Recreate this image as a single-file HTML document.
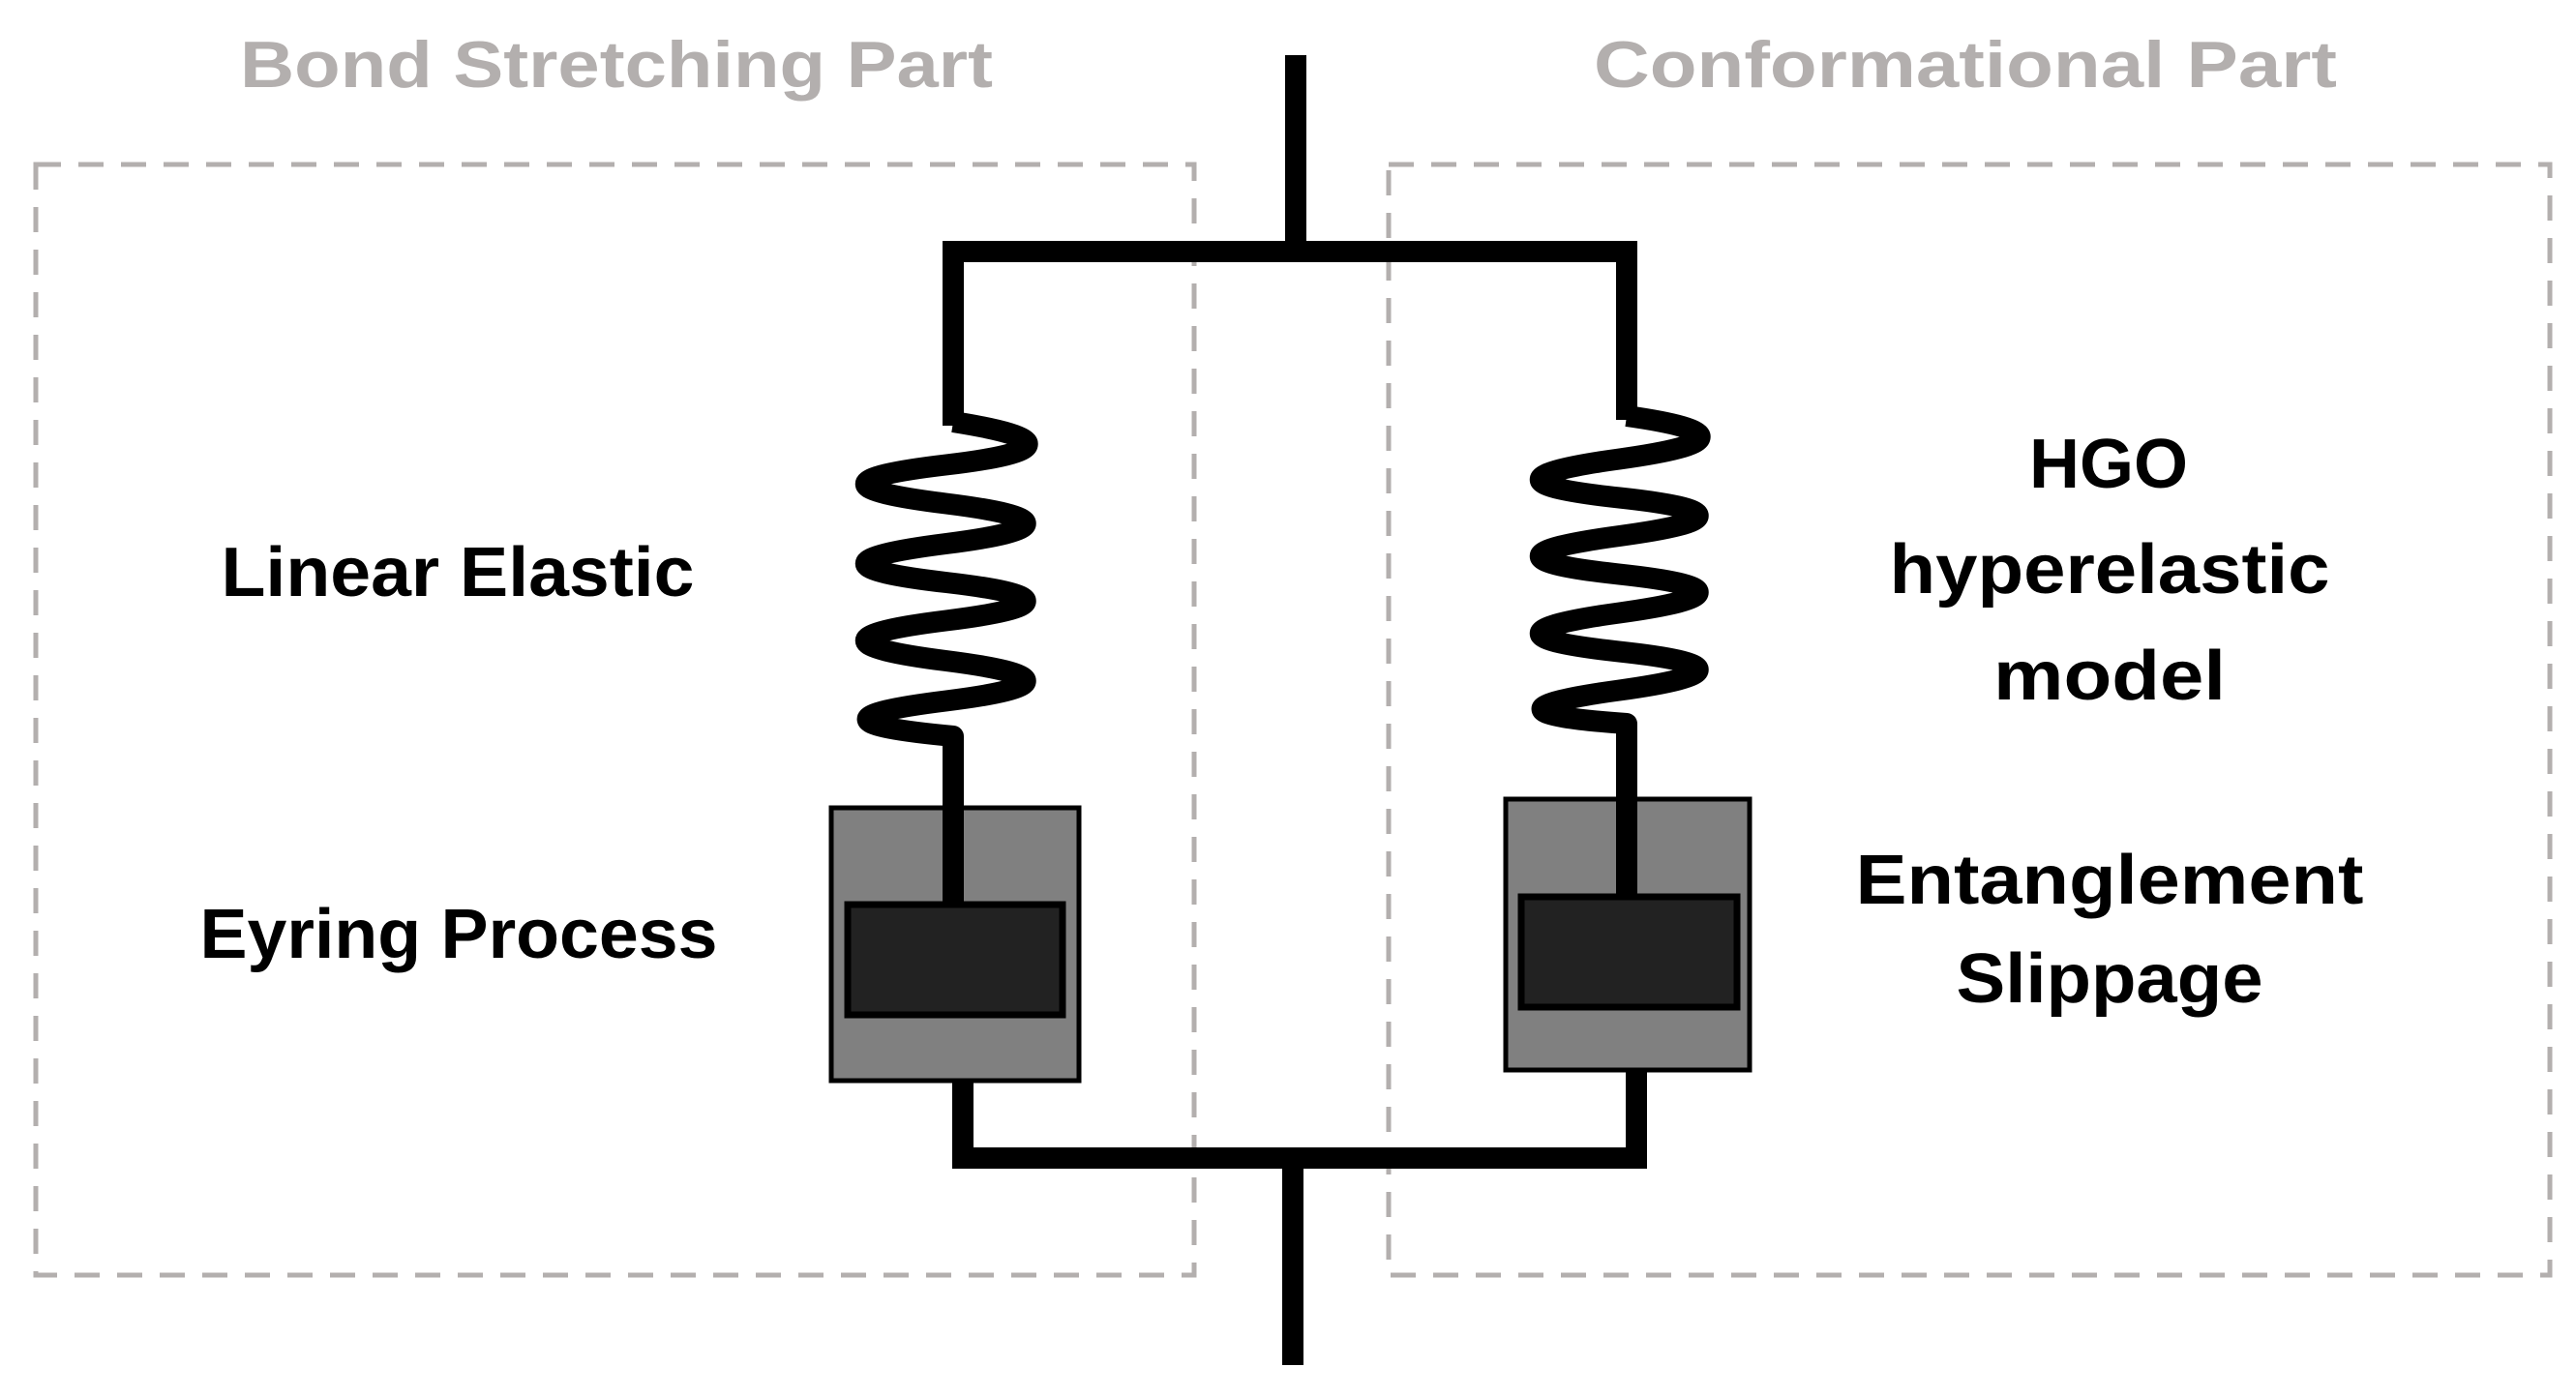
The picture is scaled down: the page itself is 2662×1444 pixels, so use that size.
<!DOCTYPE html>
<html><head><style>html,body{margin:0;padding:0;background:#fff}</style></head>
<body>
<svg width="2662" height="1439" viewBox="0 0 2662 1439" xmlns="http://www.w3.org/2000/svg">
<g fill="none" stroke="#b3afae" stroke-width="5" stroke-dasharray="26,18">
<rect x="37" y="170" width="1197" height="1148"/>
<rect x="1435" y="170" width="1200" height="1148"/>
</g>
<g font-family="'Liberation Sans', sans-serif" font-weight="bold">
<text x="637" y="90" font-size="68" fill="#b3afae" text-anchor="middle" textLength="778" lengthAdjust="spacingAndGlyphs">Bond Stretching Part</text>
<text x="2031" y="90" font-size="68" fill="#b3afae" text-anchor="middle" textLength="768" lengthAdjust="spacingAndGlyphs">Conformational Part</text>
<g fill="#000" font-size="72">
<text x="473" y="616" text-anchor="middle" textLength="489" lengthAdjust="spacingAndGlyphs">Linear Elastic</text>
<text x="474" y="990" text-anchor="middle" textLength="535" lengthAdjust="spacingAndGlyphs">Eyring Process</text>
<text x="2179" y="504" text-anchor="middle">HGO</text>
<text x="2180" y="613" text-anchor="middle" textLength="455" lengthAdjust="spacingAndGlyphs">hyperelastic</text>
<text x="2180" y="723" text-anchor="middle" textLength="240" lengthAdjust="spacingAndGlyphs">model</text>
<text x="2180" y="934" text-anchor="middle" textLength="525" lengthAdjust="spacingAndGlyphs">Entanglement</text>
<text x="2180" y="1036" text-anchor="middle" textLength="317" lengthAdjust="spacingAndGlyphs">Slippage</text>
</g></g>
<g fill="none" stroke="#000" stroke-width="22">
<path d="M1339 57 V260"/>
<path d="M985 440 V260 H1681 V434" stroke-linejoin="miter"/>
<path d="M1336 1197 V1411"/>
<path d="M995 1110 V1197 H1691 V1100"/>
<path d="M985 436 Q1142 461 977.5 480.5 Q812 500 977.5 520.5 Q1142 541 977.5 562 Q812 583 977.5 602 Q1142 621 977.5 641.5 Q812 662 977.5 683 Q1142 704 977.5 724.5 Q812 745 985 761 V935" stroke-linejoin="round"/>
<path d="M1681 430 Q1836 452 1673.5 474.5 Q1510 497 1673.5 514.5 Q1836 532 1673.5 554 Q1510 576 1673.5 593.5 Q1836 611 1673.5 633.5 Q1510 656 1673.5 673.5 Q1836 691 1673.5 713.5 Q1510 736 1681 748 V927" stroke-linejoin="round"/>
</g>
<rect x="859" y="835" width="256" height="282" fill="#808080" stroke="#000" stroke-width="5"/>
<rect x="1556" y="826" width="252" height="280" fill="#808080" stroke="#000" stroke-width="5"/>
<path d="M985 835 V935 M1681 826 V927" stroke="#000" stroke-width="22"/>
<rect x="876" y="935" width="222" height="114" fill="#222" stroke="#000" stroke-width="7"/>
<rect x="1572" y="927" width="223" height="114" fill="#222" stroke="#000" stroke-width="7"/>
</svg>
</body></html>
